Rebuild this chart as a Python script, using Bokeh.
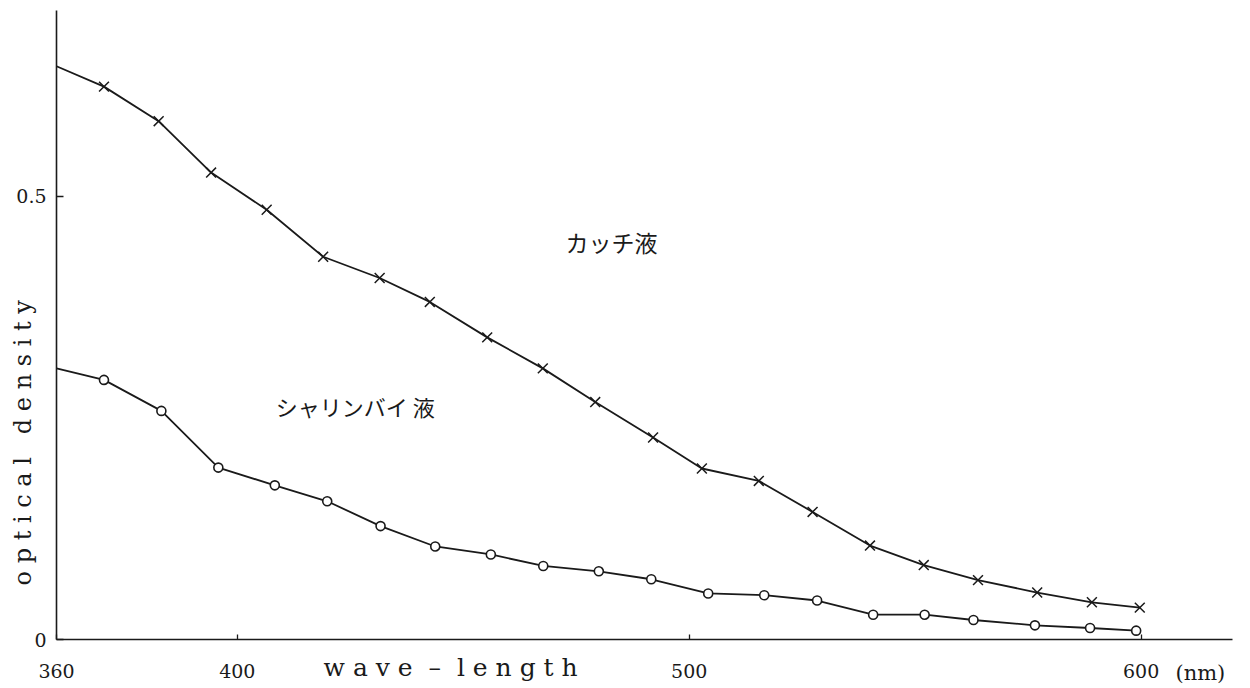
from bokeh.plotting import figure
from bokeh.models import Range1d, FixedTicker, Label
from bokeh.embed import file_html
from bokeh.resources import INLINE

# Absorption spectra (optical density vs wavelength, nm)
catechu_nm = [360, 370.5, 382.6, 394.2, 406.5, 419.0, 431.5, 442.6, 455.3, 467.6, 479.2,
              492.0, 502.8, 515.4, 527.3, 540.0, 551.9, 563.9, 577.0, 589.1, 599.7]
catechu_od = [0.647, 0.624, 0.585, 0.527, 0.485, 0.432, 0.408, 0.381, 0.341, 0.306, 0.268,
              0.228, 0.193, 0.179, 0.144, 0.106, 0.084, 0.067, 0.053, 0.042, 0.036]

sharinbai_nm = [360, 370.5, 383.2, 395.8, 408.3, 419.9, 431.7, 443.8, 456.1, 467.7, 480.0,
                491.6, 504.2, 516.6, 528.3, 540.7, 552.1, 562.9, 576.5, 588.7, 598.9]
sharinbai_od = [0.306, 0.293, 0.258, 0.194, 0.174, 0.156, 0.128, 0.105, 0.096, 0.083, 0.077,
                0.068, 0.052, 0.050, 0.044, 0.028, 0.028, 0.022, 0.016, 0.013, 0.010]

x_ticks = [360, 400, 500, 600]
y_ticks = [0, 0.5]
y_tick_labels = {0: "0", 0.5: "0.5"}

SERIF = "DejaVu Serif"
CJK = "Noto Sans CJK JP"
INK = "#1a1a1a"
NB = "\u00a0"  # non-collapsing space for letter-spaced titles


def spaced(word):
    return NB.join(word)


# The frame covers the whole canvas; the axes sit at wavelength 360 / density 0
# so that the titles and unit label beside them are drawn inside the frame.
p = figure(width=1250, height=688, output_backend="svg", toolbar_location=None,
           x_range=Range1d(347.6, 624.2), y_range=Range1d(-0.0553, 0.7212))
p.min_border = 0
p.min_border_left = 0
p.min_border_right = 0
p.min_border_top = 0
p.min_border_bottom = 0
p.title.visible = False
p.outline_line_color = None
p.background_fill_color = "white"
p.border_fill_color = "white"
p.xgrid.visible = False
p.ygrid.visible = False

for ax in (p.xaxis[0], p.yaxis[0]):
    ax.axis_line_color = INK
    ax.axis_line_width = 1.6
    ax.major_tick_line_color = INK
    ax.major_tick_line_width = 1.3
    ax.major_tick_out = 0
    ax.minor_tick_line_color = None
    ax.major_label_text_font = SERIF
    ax.major_label_text_color = INK
    ax.major_label_text_font_size = "19px"

p.xaxis.fixed_location = 0
p.xaxis.bounds = (360, 620.2)
p.xaxis.ticker = FixedTicker(ticks=x_ticks)
p.xaxis.major_tick_in = 5
p.xaxis.major_label_standoff = 24

p.yaxis.fixed_location = 360
p.yaxis.bounds = (0, 0.71)
p.yaxis.ticker = FixedTicker(ticks=y_ticks)
p.yaxis.major_label_overrides = y_tick_labels
p.yaxis.major_tick_in = 7
p.yaxis.major_label_standoff = 10

# curves
p.line(catechu_nm, catechu_od, line_color=INK, line_width=1.8)
p.scatter(catechu_nm[1:], catechu_od[1:], marker="x", size=14,
          line_color=INK, line_width=1.5)

p.line(sharinbai_nm, sharinbai_od, line_color=INK, line_width=1.8)
p.scatter(sharinbai_nm[1:], sharinbai_od[1:], marker="circle", size=9,
          fill_color="white", line_color=INK, line_width=1.6)

# series names
p.add_layout(Label(x=472.6, y=0.449, text="カッチ液", text_font=CJK,
                   text_font_size="23px", text_color=INK,
                   text_baseline="middle", text_align="left"))
p.add_layout(Label(x=408.5, y=0.263, text="シャリンバイ" + NB + "液", text_font=CJK,
                   text_font_size="22px", text_color=INK,
                   text_baseline="middle", text_align="left"))

# axis titles and unit
x_title = spaced("wave") + NB * 2 + "–" + NB * 2 + spaced("length")
y_title = spaced("optical") + NB * 3 + spaced("density")
p.add_layout(Label(x=447.2, y=-0.0316, text=x_title, text_font=SERIF,
                   text_font_size="25px", text_color=INK,
                   text_baseline="middle", text_align="center"))
p.add_layout(Label(x=352.6, y=0.222, text=y_title, text_font=SERIF,
                   text_font_size="24px", text_color=INK, angle=1.5708,
                   text_baseline="middle", text_align="center"))
p.add_layout(Label(x=607.6, y=-0.0375, text="(nm)", text_font=SERIF,
                   text_font_size="21px", text_color=INK,
                   text_baseline="middle", text_align="left"))

open("out.html", "w").write(file_html(p, INLINE))
